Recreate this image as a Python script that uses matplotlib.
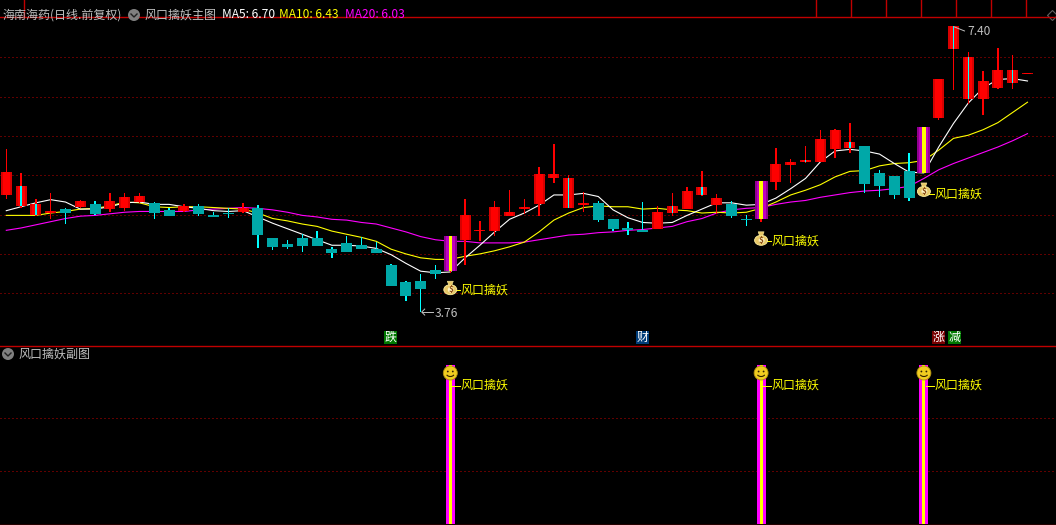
#!/usr/bin/env python

"""
Stock software style K-line chart: main candle panel with MA lines and signal sticks,
and a signal sub panel below it.
"""

import matplotlib
matplotlib.use('Agg')
import matplotlib.pyplot as plt
from matplotlib.patches import Circle, Ellipse, Polygon, Rectangle, Arc
import numpy as np

plt.rcParams['font.family'] = ['Noto Sans CJK SC', 'DejaVu Sans']

# Daily prices, one value per session
opens = [5.25, 5.11, 4.99, 5.02, 5.07, 5.10, 5.13, 5.07, 5.08, 5.16,
         5.15, 5.06, 5.05, 5.11, 4.99, 5.02, 5.03, 5.08, 4.70, 4.63,
         4.70, 4.70, 4.56, 4.64, 4.61, 4.56, 4.36, 4.14, 4.16, 4.30,
         4.28, 4.68, 4.79, 4.79, 4.98, 5.07, 5.13, 5.47, 5.08, 5.12,
         5.15, 4.94, 4.83, 4.80, 4.82, 5.02, 5.07, 5.25, 5.12, 5.13,
         4.94, 4.94, 5.41, 5.63, 5.67, 5.67, 5.83, 5.85, 5.87, 5.53,
         5.49, 5.55, 5.53, 6.23, 7.11, 6.47, 6.47, 6.61, 6.67, 6.79]
closes = [5.54, 5.36, 5.13, 5.05, 5.02, 5.17, 5.01, 5.17, 5.22, 5.24,
          5.02, 4.98, 5.11, 5.01, 4.97, 5.01, 5.08, 4.74, 4.59, 4.59,
          4.60, 4.60, 4.51, 4.52, 4.56, 4.51, 4.09, 3.96, 4.05, 4.24,
          4.73, 4.99, 4.80, 5.10, 5.03, 5.10, 5.52, 5.52, 5.47, 5.15,
          4.93, 4.82, 4.80, 4.78, 5.03, 5.11, 5.30, 5.35, 5.21, 4.98,
          4.93, 5.43, 5.64, 5.67, 5.69, 5.96, 6.08, 5.92, 5.39, 5.36,
          5.25, 5.21, 6.11, 6.72, 7.40, 7.00, 6.70, 6.84, 6.84, 6.80]
highs = [5.83, 5.53, 5.20, 5.27, 5.08, 5.19, 5.17, 5.27, 5.27, 5.27,
         5.16, 5.08, 5.13, 5.13, 5.03, 5.08, 5.15, 5.12, 4.70, 4.68,
         4.75, 4.79, 4.59, 4.73, 4.71, 4.65, 4.37, 4.16, 4.24, 4.36,
         4.73, 5.20, 4.92, 5.17, 5.31, 5.20, 5.61, 5.90, 5.50, 5.29,
         5.17, 4.94, 4.91, 5.16, 5.11, 5.27, 5.35, 5.55, 5.26, 5.17,
         4.99, 5.43, 5.85, 5.71, 5.87, 6.08, 6.09, 6.17, 5.87, 5.57,
         5.49, 5.78, 6.11, 6.72, 7.40, 7.07, 6.83, 7.12, 7.03, 6.80]
lows = [5.20, 5.08, 4.98, 4.94, 4.88, 5.08, 4.99, 5.03, 5.05, 5.15,
        4.94, 4.98, 5.03, 4.98, 4.97, 4.96, 5.02, 4.57, 4.55, 4.56,
        4.52, 4.60, 4.45, 4.52, 4.56, 4.51, 4.09, 3.90, 3.76, 4.18,
        4.26, 4.36, 4.66, 4.73, 4.98, 5.01, 4.98, 5.40, 5.08, 5.03,
        4.91, 4.79, 4.74, 4.78, 4.82, 4.98, 5.07, 5.24, 5.01, 4.96,
        4.86, 4.91, 5.31, 5.40, 5.66, 5.67, 5.72, 5.78, 5.27, 5.22,
        5.20, 5.17, 5.53, 6.20, 6.58, 6.41, 6.27, 6.60, 6.60, 6.79]

ma5 = [5.05, 5.10, 5.15, 5.19, 5.16, 5.07, 5.07, 5.10, 5.15, 5.16,
       5.13, 5.13, 5.10, 5.08, 5.05, 5.04, 5.05, 4.97, 4.89, 4.82,
       4.75, 4.68, 4.61, 4.61, 4.60, 4.57, 4.49, 4.38, 4.28, 4.26,
       4.27, 4.45, 4.61, 4.78, 4.94, 5.02, 5.12, 5.25, 5.25, 5.27,
       5.23, 5.06, 4.96, 4.90, 4.89, 4.90, 4.99, 5.07, 5.15, 5.15,
       5.12, 5.13, 5.21, 5.33, 5.46, 5.67, 5.81, 5.83, 5.81, 5.77,
       5.65, 5.54, 5.53, 5.86, 6.16, 6.42, 6.61, 6.72, 6.73, 6.70]
ma10 = [4.99, 4.99, 4.99, 5.02, 5.04, 5.07, 5.08, 5.11, 5.16, 5.15,
        5.10, 5.09, 5.10, 5.10, 5.09, 5.08, 5.07, 5.02, 4.95, 4.92,
        4.88, 4.85, 4.79, 4.75, 4.71, 4.66, 4.56, 4.50, 4.45, 4.43,
        4.43, 4.47, 4.50, 4.54, 4.59, 4.65, 4.78, 4.93, 5.02, 5.09,
        5.11, 5.10, 5.10, 5.07, 5.08, 5.06, 5.05, 5.02, 5.03, 5.02,
        5.03, 5.08, 5.16, 5.25, 5.31, 5.38, 5.48, 5.55, 5.56, 5.62,
        5.65, 5.66, 5.69, 5.82, 5.97, 6.01, 6.08, 6.17, 6.30, 6.43]
ma20 = [4.80, 4.83, 4.87, 4.91, 4.95, 4.98, 4.99, 5.01, 5.03, 5.04,
        5.04, 5.04, 5.04, 5.06, 5.07, 5.08, 5.09, 5.08, 5.06, 5.03,
        4.99, 4.97, 4.94, 4.93, 4.90, 4.88, 4.83, 4.78, 4.72, 4.68,
        4.66, 4.66, 4.64, 4.64, 4.64, 4.65, 4.68, 4.71, 4.74, 4.75,
        4.77, 4.78, 4.80, 4.81, 4.83, 4.85, 4.91, 4.95, 5.02, 5.06,
        5.08, 5.09, 5.13, 5.16, 5.18, 5.22, 5.25, 5.28, 5.30, 5.31,
        5.33, 5.36, 5.46, 5.57, 5.65, 5.72, 5.79, 5.86, 5.94, 6.03]

# Sessions that carry a signal, and the red candles showing a cyan centre line
signal_idx = [30, 51, 62]
sub_values = [3, 3, 3]
cyan_centre = [1, 2, 38, 45, 47, 54, 57, 64, 65, 68]

# Title strings and flags along the bottom of the main panel
stock_title = '海南海药(日线.前复权)'
main_title = '风口擒妖主图'
sub_title = '风口擒妖副图'
signal_label = '风口擒妖'
ma_labels = ['MA5: 6.70', 'MA10: 6.43', 'MA20: 6.03']
flag_text = ['跌', '财', '涨', '减']
flag_colors = ['#007800', '#003c78', '#780000', '#007800']
grid_prices = [7.0, 6.5, 6.0, 5.5, 5.0, 4.5, 4.0]
sub_grid = [1, 2]
high_label = '7.40'
low_label = '3.76'

W, H = 1056, 525
STEP = 14.8
XLIM = (-6.3 / STEP, (W - 6.3) / STEP)
RED = '#ff0000'
TEAL = '#00a8a8'
CYAN = '#00ffff'
GRID = '#c00000'
LINE = '#c00000'
GRAY = '#c0c0c0'
YELLOW = '#ffff00'
MAGENTA = '#ff00ff'
PX = 0.72
WICK = 1.4


def pixel_axes(fig, top, bottom):
    ax = fig.add_axes([0, 1 - bottom / H, 1, (bottom - top) / H])
    ax.set_facecolor('none')
    ax.axis('off')
    return ax


def draw_grid(ax, values):
    for v in values:
        ax.plot(XLIM, [v, v], color=GRID, lw=PX, dashes=(1, 3), snap=True, zorder=1)


def money_bag(ax, x, y):
    ax.add_patch(Ellipse((x, y + 1.5), 13, 10, fc='#e8c868', ec='#fff0a0', lw=0.6, zorder=6))
    ax.add_patch(Polygon([[x - 3, y - 7], [x + 3, y - 7], [x + 1.5, y - 3], [x - 1.5, y - 3]],
                         fc='#e8c868', ec='#fff0a0', lw=0.4, zorder=6))
    ax.add_patch(Ellipse((x + 0.5, y + 1.5), 6, 6, fc='#fff4c0', ec='none', zorder=7))
    ax.text(x + 0.5, y + 1.5, '$', color='#8a4a10', fontsize=6, ha='center', va='center',
            fontweight='bold', zorder=8)


def smiley(ax, x, y):
    ax.add_patch(Circle((x, y), 7, fc='#f0cc20', ec='#b09010', lw=0.6, zorder=6))
    ax.add_patch(Circle((x - 2.5, y - 1.5), 0.9, fc='#302000', ec='none', zorder=7))
    ax.add_patch(Circle((x + 2.5, y - 1.5), 0.9, fc='#302000', ec='none', zorder=7))
    ax.add_patch(Arc((x, y + 0.5), 8, 6, theta1=20, theta2=160, ec='#302000', lw=0.8, zorder=7))


def chevron_icon(ax, x, y):
    ax.add_patch(Circle((x, y), 6, fc='#808080', ec='none', zorder=6))
    ax.plot([x - 3, x, x + 3], [y - 1, y + 2, y - 1], color='#202020', lw=1, zorder=7)


def main():
    fig = plt.figure(figsize=(W / 100, H / 100), dpi=100, facecolor='k')

    # Price panel: 78.6 pixels per 1.0 of price, 7.0 sits on pixel row 57.4
    ax = pixel_axes(fig, 0, 345)
    ax.set_xlim(*XLIM)
    ax.set_ylim(7.0 - (345 - 57.4) / 78.6, 7.0 + 57.4 / 78.6)

    x = np.arange(len(opens))
    o, c = np.array(opens), np.array(closes)
    hi, lo = np.array(highs), np.array(lows)
    up = c >= o
    bottom = np.minimum(o, c)
    height = np.abs(c - o)
    height = np.maximum(height, 1.2 / 78.6)

    draw_grid(ax, grid_prices)
    ax.plot(x, ma20, color=MAGENTA, lw=0.8, zorder=2)
    ax.plot(x, ma10, color=YELLOW, lw=0.8, zorder=2)
    ax.plot(x, ma5, color='white', lw=0.8, zorder=2)

    # Wicks as thin bars, they stay crisp that way
    wick_colors = [RED if u else CYAN for u in up]
    ax.bar(x, hi - lo, bottom=lo, width=WICK / STEP, color=wick_colors, zorder=3, antialiased=False)
    ax.bar(x[up], height[up], bottom=bottom[up], width=11 / STEP, color='#d80000', zorder=4,
           antialiased=False)
    ax.bar(x[up], height[up], bottom=bottom[up], width=7 / STEP, color=RED, zorder=4,
           antialiased=False)
    ax.bar(x[~up], height[~up], bottom=bottom[~up], width=11 / STEP, color=TEAL, zorder=4,
           antialiased=False)
    ax.bar(cyan_centre, c[cyan_centre] - o[cyan_centre], bottom=o[cyan_centre],
           width=WICK / STEP, color=CYAN, zorder=5, antialiased=False)

    # Signal sticks painted over their candles
    for width, color in [(13, '#900090'), (9, '#c000c0'), (3.5, YELLOW)]:
        ax.bar(signal_idx, c[signal_idx] - o[signal_idx], bottom=o[signal_idx],
               width=width / STEP, color=color, zorder=5, antialiased=False)

    # Signal panel
    sub = pixel_axes(fig, 345, 525)
    sub.set_xlim(*XLIM)
    sub.set_ylim(-3 / 157, 3 + 20 / 52.33)
    draw_grid(sub, sub_grid)
    sub.bar(signal_idx, sub_values, width=9 / STEP, color=MAGENTA, zorder=3, antialiased=False)
    sub.bar(signal_idx, sub_values, width=3 / STEP, color=YELLOW, zorder=4, antialiased=False)

    # Overlay in pixel rows for text, icons and frame lines
    top = fig.add_axes([0, 0, 1, 1])
    top.set_facecolor('none')
    top.axis('off')
    top.set_xlim(0, W)
    top.set_ylim(H, 0)

    def to_px(i, price):
        px, py = ax.transData.transform((i, price))
        return px, H - py

    for yy in [16.5, 345.5, 524.5]:
        top.plot([0, W], [yy, yy], color=LINE, lw=1, snap=True)
    for xx in [23.5, 816, 850.5, 885.5, 920.5, 955.5, 990.5, 1025.5]:
        top.plot([xx, xx], [0, 16], color=LINE, lw=1, snap=True)

    fs = 12 * 0.72
    top.text(3, 15, stock_title, color=GRAY, fontsize=fs, ha='left', va='center')
    chevron_icon(top, 134, 15)
    top.text(144, 15, main_title, color=GRAY, fontsize=fs, ha='left', va='center')
    for label, xx, color in zip(ma_labels, [222, 279, 345], ['white', YELLOW, MAGENTA]):
        top.text(xx, 15, label, color=color, fontsize=fs, ha='left', va='center')
    chevron_icon(top, 8, 354)
    top.text(18, 354, sub_title, color=GRAY, fontsize=fs, ha='left', va='center')

    top.add_patch(Polygon([[1047.5, 15.5], [1052.5, 10.5], [1057.5, 15.5], [1052.5, 20.5]],
                          fc='none', ec='#606060', lw=0.8))

    # Gaps below each signal stick, in pixel rows
    for i, bag_gap, text_gap in zip(signal_idx, [17, 19.5, 17], [19, 22, 21]):
        sx, sy = to_px(i, o[i])
        money_bag(top, sx, sy + bag_gap)
        top.plot([sx + 2, sx + 10], [sy + text_gap, sy + text_gap], color=YELLOW, lw=PX, zorder=5)
        top.text(sx + 10.5, sy + text_gap, signal_label, color=YELLOW, fontsize=fs, ha='left',
                 va='center', zorder=6)
        smiley(top, sx, 373)
        top.plot([sx + 2, sx + 10], [386, 386], color=YELLOW, lw=PX, zorder=5)
        top.text(sx + 10.5, 385.5, signal_label, color=YELLOW, fontsize=fs, ha='left',
                 va='center', zorder=6)

    # High and low price notes
    lx, ly = to_px(int(np.argmin(lows)), min(lows))
    top.plot([lx + 1, lx + 12], [ly, ly], color=GRAY, lw=0.7, zorder=6)
    top.plot([lx + 4, lx + 1, lx + 4], [ly - 3, ly, ly + 3], color=GRAY, lw=0.7, zorder=6)
    top.text(lx + 13.5, ly + 1, low_label, color=GRAY, fontsize=fs, ha='left', va='center')
    hx, hy = to_px(int(np.argmax(highs)), max(highs))
    top.plot([hx + 1, hx + 11], [hy + 1, hy + 5], color=GRAY, lw=0.7, zorder=6)
    top.text(hx + 13.5, hy + 6, high_label, color=GRAY, fontsize=fs, ha='left', va='center')

    # Small flags above the sub panel
    for label, xx, color in zip(flag_text, [384, 636, 932, 948], flag_colors):
        top.add_patch(Rectangle((xx, 331), 13, 13, fc=color, ec='none'))
        top.text(xx + 6.5, 337.5, label, color='white', fontsize=fs, ha='center', va='center')

    fig.savefig('out.png', dpi=100, facecolor='k')


if __name__ == "__main__":
    main()
